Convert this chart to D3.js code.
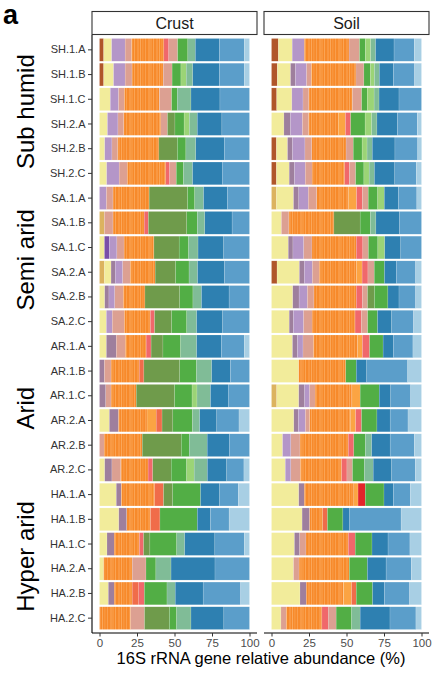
<!DOCTYPE html>
<html>
<head>
<meta charset="utf-8">
<script src="https://cdn.jsdelivr.net/npm/d3@7"></script>
<style>
  body { margin: 0; background: #fff; }
  text { font-family: "Liberation Sans", Arial, sans-serif; }
</style>
</head>
<body>
<div id="chart"></div>
<script>
// sample rows, top to bottom
const samples = [
  'SH.1.A', 'SH.1.B', 'SH.1.C', 'SH.2.A', 'SH.2.B', 'SH.2.C',
  'SA.1.A', 'SA.1.B', 'SA.1.C', 'SA.2.A', 'SA.2.B', 'SA.2.C',
  'AR.1.A', 'AR.1.B', 'AR.1.C', 'AR.2.A', 'AR.2.B', 'AR.2.C',
  'HA.1.A', 'HA.1.B', 'HA.1.C', 'HA.2.A', 'HA.2.B', 'HA.2.C'
];
const groups = ['Sub humid', 'Semi arid', 'Arid', 'Hyper arid'];
const facets = ['Crust', 'Soil'];
const xTicks = [0, 25, 50, 75, 100];

// taxa in stacking order (left to right) and their colours
const taxa = ['brown', 'tan', 'yellow', 'purple', 'mauve', 'lavender', 'salmon', 'orange', 'lorange',
  'orangered', 'redpink', 'red', 'salmon2', 'dgreen', 'green', 'lgreen', 'teal', 'dblue', 'mblue', 'lblue'];
const taxaColors = ['#b0562a', '#dcb35f', '#f2ec9b', '#7a50a8', '#9e7f9d', '#b496c8', '#dca092', '#f78a2b', '#fba443',
  '#f06c4a', '#f0686b', '#e3242a', '#dca092', '#6f9b4b', '#52ae45', '#9bd476', '#80bc97', '#2e80b1', '#5b9eca', '#a8cfe4'];

// relative abundance (%) per sample, columns follow `taxa`
const crust = [
  [2.8, 0, 5.3, 0, 0, 9.0, 4.3, 21.5, 0, 0, 3.3, 0, 5.9, 0, 6.8, 0, 5.0, 16.0, 16.6, 3.5],
  [2.8, 0, 6.6, 0, 0, 7.7, 4.6, 20.8, 0, 0, 0, 0, 5.9, 0, 5.9, 3.5, 4.4, 17.7, 16.6, 3.5],
  [0, 0, 7.2, 0, 0, 5.5, 3.9, 23.4, 0, 0, 0, 0, 8.1, 0, 3.7, 0, 9.2, 19.3, 19.7, 0],
  [0, 0, 5.3, 0, 0, 7.0, 3.9, 24.7, 0, 0, 0, 0, 4.4, 5.0, 6.1, 3.5, 5.3, 16.4, 18.4, 0],
  [0, 0, 3.5, 0, 0, 4.8, 3.9, 27.4, 0, 0, 0, 0, 0, 12.3, 5.7, 0, 6.6, 19.0, 16.8, 0],
  [0, 0, 4.8, 0, 0, 8.3, 5.5, 25.6, 0, 0, 2.6, 0, 4.4, 0, 4.8, 0, 6.1, 19.7, 18.2, 0],
  [0, 0, 0, 0, 0, 4.6, 4.4, 24.1, 0, 0, 0, 0, 0, 25.6, 4.8, 0, 5.9, 15.8, 14.8, 0],
  [0, 3.3, 0, 0, 0, 0, 5.7, 20.8, 0, 0, 2.8, 0, 0, 25.6, 7.0, 0, 5.0, 18.2, 11.6, 0],
  [0, 0, 3.3, 3.3, 0, 5.0, 4.8, 19.9, 0, 0, 0, 0, 0, 16.8, 6.3, 0, 6.3, 17.1, 17.2, 0],
  [0, 3.3, 4.4, 0, 2.8, 5.0, 5.0, 16.6, 0, 0, 0, 0, 0, 13.6, 9.0, 0, 5.7, 17.9, 16.7, 0],
  [0, 0, 3.5, 0, 2.8, 3.9, 5.7, 14.4, 0, 0, 0, 0, 0, 23.2, 8.8, 0, 5.7, 18.4, 13.6, 0],
  [0, 0, 4.6, 0, 0, 3.9, 8.1, 17.3, 0, 0, 2.8, 0, 0, 11.4, 10.1, 0, 6.6, 17.3, 17.9, 0],
  [0, 0, 4.6, 0, 6.6, 0, 6.1, 13.8, 0, 0, 3.3, 0, 0, 7.9, 11.8, 0, 10.7, 16.4, 15.3, 3.5],
  [0, 0, 0, 0, 3.3, 0, 4.4, 18.8, 0, 3.1, 0, 0, 0, 23.9, 11.2, 0, 10.1, 12.5, 12.7, 0],
  [0, 0, 0, 0, 4.2, 0, 3.5, 16.8, 0, 0, 0, 0, 0, 25.6, 11.6, 3.3, 9.0, 11.8, 14.2, 0],
  [0, 0, 6.6, 0, 6.1, 0, 0, 19.0, 6.1, 3.9, 0, 0, 0, 7.2, 13.1, 0, 4.8, 11.4, 14.8, 7.0],
  [0, 0, 0, 0, 0, 0, 3.1, 25.4, 0, 0, 0, 0, 0, 26.0, 5.3, 0, 12.0, 14.7, 13.5, 0],
  [0, 0, 3.5, 0, 4.8, 0, 5.9, 18.2, 0, 0, 3.1, 0, 0, 12.3, 10.3, 5.0, 8.8, 12.9, 11.5, 3.7],
  [0, 0, 11.2, 0, 3.3, 0, 0, 22.3, 0, 5.9, 0, 0, 0, 6.1, 18.6, 0, 0, 12.7, 12.5, 7.4],
  [0, 0, 12.9, 0, 5.3, 0, 0, 15.8, 0, 6.3, 0, 0, 0, 0, 24.9, 0, 0, 8.8, 12.4, 13.6],
  [0, 0, 5.0, 0, 4.8, 0, 0, 16.8, 0, 0, 2.8, 0, 0, 4.2, 17.9, 0, 5.3, 20.1, 19.6, 3.5],
  [0, 0, 2.8, 0, 0, 0, 0, 19.0, 0, 0, 0, 0, 9.2, 0, 6.6, 0, 10.1, 29.3, 23.0, 0],
  [0, 0, 5.9, 0, 3.9, 0, 0, 12.0, 0, 4.4, 3.7, 0, 0, 0, 15.1, 0, 5.5, 18.6, 25.0, 5.9],
  [0, 0, 0, 0, 0, 0, 0, 20.8, 0, 0, 0, 0, 9.2, 16.6, 4.8, 0, 9.6, 21.9, 17.1, 0]
];
const soil = [
  [4.6, 0, 9.2, 0, 0, 8.1, 0, 29.8, 0, 0, 0, 0, 7.0, 0, 3.9, 3.5, 3.3, 12.3, 13.5, 4.8],
  [3.9, 0, 8.8, 0, 3.3, 7.4, 3.1, 29.8, 0, 0, 0, 0, 5.3, 0, 4.4, 2.6, 3.3, 9.4, 14.1, 4.6],
  [3.5, 0, 10.1, 0, 0, 7.4, 3.9, 29.1, 0, 0, 0, 0, 6.1, 0, 3.7, 4.6, 3.3, 13.3, 15.0, 0],
  [0, 0, 8.3, 0, 4.4, 7.9, 4.2, 19.7, 4.8, 0, 3.5, 0, 0, 0, 9.6, 4.4, 3.5, 13.6, 13.3, 2.8],
  [3.3, 0, 7.4, 0, 3.3, 8.3, 4.6, 22.8, 0, 0, 0, 0, 4.8, 0, 5.9, 3.3, 3.5, 15.1, 15.2, 2.6],
  [3.3, 0, 8.5, 0, 3.5, 7.2, 4.6, 21.7, 0, 0, 3.1, 0, 4.2, 0, 5.5, 3.5, 3.5, 13.6, 14.3, 3.5],
  [0, 3.3, 11.4, 0, 3.5, 6.3, 5.7, 21.2, 5.3, 0, 3.9, 0, 3.9, 0, 6.3, 4.4, 0, 9.4, 12.3, 3.1],
  [0, 0, 6.6, 0, 0, 0, 5.0, 30.0, 0, 0, 0, 0, 0, 17.5, 6.8, 0, 3.7, 15.8, 14.6, 0],
  [0, 0, 11.2, 0, 3.1, 7.2, 5.5, 29.5, 0, 0, 4.4, 0, 3.7, 0, 6.3, 4.6, 0, 10.7, 13.8, 0],
  [3.7, 0, 14.9, 0, 3.3, 5.3, 4.6, 24.9, 3.7, 0, 3.9, 0, 4.2, 0, 6.8, 0, 0, 7.9, 12.9, 3.9],
  [0, 0, 14.2, 0, 4.2, 5.5, 4.4, 28.2, 0, 0, 4.2, 0, 3.3, 4.6, 9.0, 0, 0, 7.4, 11.1, 3.9],
  [0, 0, 11.8, 0, 2.8, 6.8, 5.7, 28.6, 0, 0, 4.2, 0, 4.2, 0, 6.6, 0, 0, 9.4, 14.6, 5.3],
  [0, 0, 14.0, 0, 3.3, 3.7, 7.0, 29.5, 3.1, 0, 4.8, 0, 0, 0, 9.0, 0, 0, 6.8, 13.1, 5.7],
  [0, 0, 18.2, 0, 0, 0, 0, 31.3, 0, 0, 0, 0, 0, 0, 7.0, 0, 0, 7.0, 27.3, 9.2],
  [0, 3.5, 14.7, 0, 3.9, 3.3, 3.7, 24.5, 5.5, 0, 0, 0, 0, 0, 12.7, 0, 0, 7.7, 13.3, 7.2],
  [0, 0, 14.9, 0, 3.1, 4.6, 2.8, 27.4, 3.3, 0, 3.9, 0, 0, 0, 10.3, 0, 0, 8.8, 11.9, 9.0],
  [0, 0, 7.4, 0, 0, 5.5, 6.1, 32.2, 0, 0, 3.7, 0, 0, 0, 7.7, 0, 4.2, 12.3, 16.1, 4.8],
  [0, 0, 9.2, 0, 0, 3.7, 6.3, 27.6, 0, 0, 3.5, 0, 3.7, 0, 7.9, 0, 5.9, 12.3, 15.7, 4.2],
  [0, 0, 18.2, 0, 3.7, 0, 0, 33.0, 2.8, 0, 0, 4.8, 0, 0, 12.5, 0, 0, 6.3, 11.3, 7.4],
  [0, 0, 20.4, 0, 5.0, 0, 0, 8.8, 0, 3.1, 0, 0, 0, 0, 10.3, 0, 0, 4.2, 34.6, 13.6],
  [0, 0, 15.3, 0, 3.5, 0, 4.2, 28.2, 0, 0, 4.6, 0, 0, 0, 11.2, 0, 0, 10.7, 14.6, 7.7],
  [0, 0, 14.7, 0, 0, 0, 3.7, 33.5, 0, 0, 0, 0, 0, 0, 12.0, 0, 0, 12.5, 16.8, 6.8],
  [0, 0, 19.0, 0, 4.2, 0, 0, 24.9, 5.3, 3.1, 0, 0, 0, 0, 10.9, 0, 0, 7.9, 16.8, 7.9],
  [0, 0, 6.3, 0, 0, 0, 3.5, 23.8, 0, 0, 4.2, 0, 5.3, 0, 10.3, 0, 5.7, 19.9, 17.3, 3.7]
];

const W = 433, H = 674;
const svg = d3.select('#chart').append('svg')
  .attr('width', W).attr('height', H);

// fine stripes inside the orange block (many genera in the original)
const defs = svg.append('defs');
const pat = defs.append('pattern')
  .attr('id', 'orangeStripes')
  .attr('patternUnits', 'userSpaceOnUse')
  .attr('width', 19).attr('height', 10);
pat.append('rect').attr('width', 19).attr('height', 10).attr('fill', '#f78a2b');
[[1, 1, 0.35], [4, 2, 0.2], [7, 1, 0.4], [9, 1.5, 0.15], [12, 1, 0.3], [15, 2, 0.22], [17.5, 1, 0.35]]
  .forEach(([x, w, o]) => {
    pat.append('rect').attr('x', x).attr('width', w).attr('height', 10)
      .attr('fill', '#ffd2a0').attr('opacity', o);
  });

const panels = [
  { name: facets[0], data: crust, x0: 92, x1: 257 },
  { name: facets[1], data: soil, x0: 264, x1: 429 }
];

const axisY = 633;

const y = d3.scaleBand()
  .domain(samples)
  .range([37.5, 630.5])
  .paddingInner(0.08)
  .paddingOuter(0.04);

const stack = d3.stack()
  .keys(d3.range(taxa.length))
  .value((row, k) => row[k]);

panels.forEach((p, pi) => {
  const x = d3.scaleLinear().domain([-5, 105]).range([p.x0, p.x1]);
  const g = svg.append('g');

  // strip
  g.append('rect')
    .attr('x', p.x0).attr('y', 11.5)
    .attr('width', p.x1 - p.x0).attr('height', 23)
    .attr('fill', '#fff').attr('stroke', '#333').attr('stroke-width', 1.1);
  g.append('text')
    .attr('x', (p.x0 + p.x1) / 2).attr('y', 29)
    .attr('text-anchor', 'middle')
    .style('font-size', '16px').style('fill', '#1a1a1a')
    .text(p.name);

  const series = stack(p.data);
  series.forEach((s, k) => {
    g.append('g')
      .selectAll('rect')
      .data(s.map((d, i) => ({ d, i })).filter(e => e.d[1] - e.d[0] > 0))
      .join('rect')
      .attr('x', e => x(e.d[0]))
      .attr('y', e => y(samples[e.i]))
      .attr('width', e => x(e.d[1]) - x(e.d[0]))
      .attr('height', y.bandwidth())
      .attr('fill', taxa[k] === 'orange' ? 'url(#orangeStripes)' : taxaColors[k])
      .attr('stroke', '#fff')
      .attr('stroke-opacity', 0.35)
      .attr('stroke-width', 0.4);
  });

  // x axis
  const xAxis = g.append('g')
    .attr('transform', `translate(0,${axisY})`)
    .call(d3.axisBottom(x).tickValues(xTicks).tickSize(3.5).tickPadding(2).tickSizeOuter(0));
  xAxis.select('.domain').attr('d', `M${p.x0},0H${p.x1}`).attr('stroke', '#000').attr('stroke-width', 1.1);
  xAxis.selectAll('.tick line').attr('stroke', '#333');
  xAxis.selectAll('.tick text')
    .style('font-size', '11.5px').style('fill', '#4d4d4d')
    .style('font-family', '"Liberation Sans", Arial, sans-serif');

  if (pi === 0) {
    const yAxis = g.append('g')
      .attr('transform', `translate(${p.x0},0)`)
      .call(d3.axisLeft(y).tickSize(4).tickPadding(2.5).tickSizeOuter(0));
    yAxis.select('.domain').attr('d', `M0,35V${axisY}`).attr('stroke', '#000').attr('stroke-width', 1.1);
    yAxis.selectAll('.tick line').attr('stroke', '#333');
    yAxis.selectAll('.tick text')
      .style('font-size', '11px').style('fill', '#333')
      .style('font-family', '"Liberation Sans", Arial, sans-serif');
  }
});

// climate group labels on the left
groups.forEach((name, gi) => {
  const top = y(samples[gi * 6]);
  const bottom = y(samples[gi * 6 + 5]) + y.bandwidth();
  const cy = (top + bottom) / 2;
  svg.append('text')
    .attr('transform', `translate(34,${cy}) rotate(-90)`)
    .attr('text-anchor', 'middle')
    .style('font-size', '24px').style('fill', '#000')
    .text(name);
});

// axis title
svg.append('text')
  .attr('x', 261).attr('y', 664)
  .attr('text-anchor', 'middle')
  .style('font-size', '16.5px').style('fill', '#000')
  .text('16S rRNA gene relative abundance (%)');

// panel tag
svg.append('text')
  .attr('x', 3).attr('y', 24)
  .style('font-size', '27px').style('font-weight', 'bold')
  .text('a');
</script>
</body>
</html>
